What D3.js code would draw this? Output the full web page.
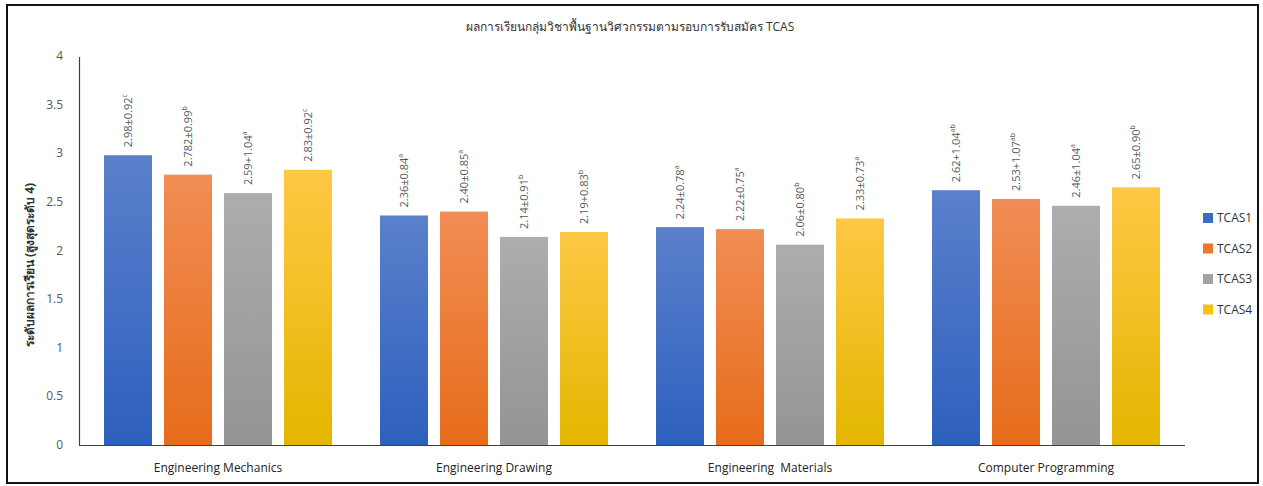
<!DOCTYPE html>
<html>
<head>
<meta charset="utf-8">
<script src="https://cdn.jsdelivr.net/npm/d3@7"></script>
<style>
  html,body{margin:0;padding:0;background:#fff;}
  svg text{font-family:"Open Sans","Noto Sans","DejaVu Sans",sans-serif;}
</style>
</head>
<body>
<div id="chart"></div>
<script>
const categories=["Engineering Mechanics","Engineering Drawing","Engineering  Materials","Computer Programming"];
const series=["TCAS1","TCAS2","TCAS3","TCAS4"];
const means=[
  [2.98,2.78,2.59,2.83],
  [2.36,2.40,2.14,2.19],
  [2.24,2.22,2.06,2.33],
  [2.62,2.53,2.46,2.65]
];
const labelText=[
  ["2.98±0.92","2.782±0.99","2.59+1.04","2.83±0.92"],
  ["2.36±0.84","2.40±0.85","2.14±0.91","2.19+0.83"],
  ["2.24±0.78","2.22±0.75","2.06±0.80","2.33±0.73"],
  ["2.62+1.04","2.53+1.07","2.46±1.04","2.65±0.90"]
];
const labelSup=[
  ["c","b","a","c"],
  ["a","a","b","b"],
  ["a","a","b","a"],
  ["ab","ab","a","b"]
];
const yTicks=[0,0.5,1,1.5,2,2.5,3,3.5,4];
const title="ผลการเรียนกลุ่มวิชาพื้นฐานวิศวกรรมตามรอบการรับสมัคร TCAS";
const yTitle="ระดับผลการเรียน (สูงสุดระดับ 4)";

const W=1263,H=486;
const svg=d3.select("#chart").append("svg").attr("width",W).attr("height",H);

// outer frame like the pasted figure
svg.append("rect").attr("x",7).attr("y",5).attr("width",1251).attr("height",478)
  .attr("fill","#fff").attr("stroke","#111").attr("stroke-width",2);

const x0=d3.scaleBand().domain(categories).range([80,1184]).padding(0);
const x1=d3.scaleBand().domain(series).range([0,x0.bandwidth()]).paddingInner(0.2).paddingOuter(0.4);
const y=d3.scaleLinear().domain([0,4]).range([445,56]);

const topColor=["#5b80cb","#f18d55","#adadad","#ffc845"];
const botColor=["#2d60be","#e66c1a","#949494","#e3b600"];
const legendColor=["#3d6cc4","#ed7a2c","#a3a3a3","#fcc10f"];

const defs=svg.append("defs");
series.forEach((s,i)=>{
  const g=defs.append("linearGradient").attr("id","g"+i)
    .attr("x1",0).attr("y1",0).attr("x2",0).attr("y2",1);
  g.append("stop").attr("offset","0%").attr("stop-color",topColor[i]);
  g.append("stop").attr("offset","100%").attr("stop-color",botColor[i]);
});

svg.append("text").attr("x",630).attr("y",31).attr("text-anchor","middle")
  .attr("font-size",12).attr("fill","#333").text(title);

// y axis labels
svg.selectAll(".ytick").data(yTicks).join("text")
  .attr("x",63).attr("y",d=>y(d)+4)
  .attr("text-anchor","end").attr("font-size",12).attr("fill","#595959")
  .text(d=>d);

svg.append("text")
  .attr("transform","translate(34,265) rotate(-90)")
  .attr("text-anchor","middle").attr("font-size",12).attr("font-weight","bold")
  .attr("fill","#333").text(yTitle);

const groups=svg.selectAll(".cat").data(categories).join("g")
  .attr("transform",d=>`translate(${x0(d)},0)`);

groups.each(function(cat,ci){
  const g=d3.select(this);
  const rows=series.map((s,si)=>({s,si,v:means[ci][si],t:labelText[ci][si],sup:labelSup[ci][si]}));
  g.selectAll("rect").data(rows).join("rect")
    .attr("x",d=>x1(d.s)).attr("width",x1.bandwidth())
    .attr("y",d=>y(d.v)).attr("height",d=>y(0)-y(d.v))
    .attr("fill",d=>`url(#g${d.si})`);
  const lab=g.selectAll(".lab").data(rows).join("text")
    .attr("class","lab")
    .attr("transform",d=>`translate(${x1(d.s)+x1.bandwidth()/2+4},${y(d.v)-8}) rotate(-90)`)
    .attr("font-size",11).attr("fill","#595959");
  lab.append("tspan").text(d=>d.t);
  lab.append("tspan").attr("dy",-5).attr("font-size",7).text(d=>d.sup);
});

// axes lines
svg.append("line").attr("x1",79.5).attr("x2",79.5).attr("y1",57).attr("y2",445.5)
  .attr("stroke","#404040").attr("stroke-width",1.2);
svg.append("line").attr("x1",79).attr("x2",1185).attr("y1",445.5).attr("y2",445.5)
  .attr("stroke","#404040").attr("stroke-width",1.2);

svg.selectAll(".xlab").data(categories).join("text")
  .attr("x",d=>x0(d)+x0.bandwidth()/2).attr("y",472)
  .attr("text-anchor","middle").attr("font-size",12).attr("fill","#222")
  .style("white-space","pre")
  .text(d=>d);

// legend
const leg=svg.selectAll(".leg").data(series).join("g")
  .attr("transform",(d,i)=>`translate(1203,${213+i*30.5})`);
leg.append("rect").attr("width",10).attr("height",10).attr("fill",(d,i)=>legendColor[i]);
leg.append("text").attr("x",14).attr("y",9).attr("font-size",12).attr("fill","#333").text(d=>d);
</script>
</body>
</html>
